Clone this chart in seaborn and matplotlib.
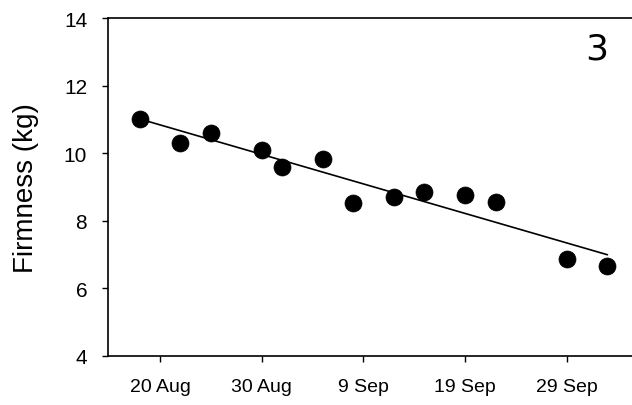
import matplotlib
matplotlib.use("Agg")
import matplotlib.pyplot as plt
import matplotlib.dates as mdates
import numpy as np
import pandas as pd
import seaborn as sns

# Sampling dates and measured fruit firmness
dates = ["2000-08-18", "2000-08-22", "2000-08-25", "2000-08-30", "2000-09-01",
         "2000-09-05", "2000-09-08", "2000-09-12", "2000-09-15", "2000-09-19",
         "2000-09-22", "2000-09-29", "2000-10-03"]
firmness = [11.0, 10.3, 10.6, 10.1, 9.6, 9.83, 8.53, 8.72, 8.84, 8.76, 8.57, 6.87, 6.65]

tick_dates = ["2000-08-20", "2000-08-30", "2000-09-09", "2000-09-19", "2000-09-29"]
tick_labels = ["20 Aug", "30 Aug", "9 Sep", "19 Sep", "29 Sep"]
y_ticks = [4, 6, 8, 10, 12, 14]
panel_label = "3"

df = pd.DataFrame({
    "date": mdates.date2num(pd.to_datetime(dates)),
    "firmness": firmness,
})

sns.set_style("white")
plt.rcParams["font.family"] = ["Liberation Sans", "DejaVu Sans"]
plt.rcParams["text.color"] = "black"
plt.rcParams["axes.labelcolor"] = "black"
plt.rcParams["xtick.color"] = "black"
plt.rcParams["ytick.color"] = "black"

fig = plt.figure(figsize=(6.32, 4.06), dpi=100)
ax = fig.add_axes([0.171, 0.1207, 0.829, 0.8323])

sns.regplot(data=df, x="date", y="firmness", ax=ax, ci=None,
            scatter_kws=dict(s=150, color="black", edgecolor="black", linewidths=0.5,
                             alpha=1.0, zorder=3),
            line_kws=dict(color="black", linewidth=1.2))

ax.set_xlim(mdates.date2num(pd.Timestamp("2000-08-14 21:00")),
            mdates.date2num(pd.Timestamp("2000-10-05 10:00")))
ax.set_ylim(4, 14)

ax.set_xticks(mdates.date2num(pd.to_datetime(tick_dates)))
ax.set_xticklabels(tick_labels, fontsize=14)
ax.set_yticks(y_ticks)
ax.set_yticklabels([str(v) for v in y_ticks], fontsize=15)

ax.set_xlabel("")
ax.set_ylabel("Firmness (kg)", fontsize=20, labelpad=18)

for side in ["left", "bottom", "top"]:
    ax.spines[side].set_color("black")
    ax.spines[side].set_linewidth(1.2)
ax.spines["right"].set_visible(False)

ax.tick_params(axis="both", direction="out", length=4, width=1, color="black",
               labelcolor="black", bottom=True, left=True)
ax.tick_params(axis="x", pad=12)
ax.tick_params(axis="y", pad=11)

ax.text(0.933, 0.91, panel_label, transform=ax.transAxes, fontsize=26,
        family="DejaVu Sans", fontweight="normal", ha="center", va="center")

fig.savefig("out.png", dpi=100)
